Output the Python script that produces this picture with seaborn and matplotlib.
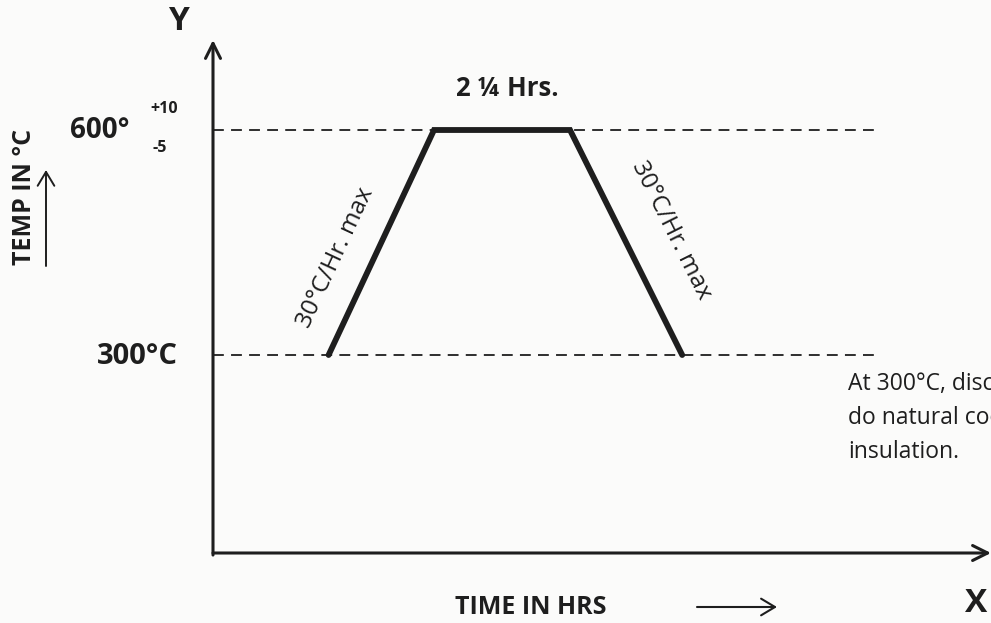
import matplotlib
matplotlib.use("Agg")
import matplotlib.pyplot as plt
import seaborn as sns
import pandas as pd

# ---- data (schematic heat-treatment cycle) ----
time_pts = [3.4, 6.5, 10.5, 13.8]        # schematic time positions
temp_pts = [300, 600, 600, 300]          # temperature, deg C
levels = [600, 300]                      # reference temperature levels
level_ends = [19.5, 19.65]               # extent of dashed guide lines
ramp_label = "30°C/Hr. max"
hold_label = "2 ¼ Hrs."
note_lines = ["At 300°C, discontinue heating and",
              "do natural cooling under",
              "insulation."]

W, H = 991, 623
sns.set_theme(style="white")
plt.rcParams['font.family'] = ['Open Sans', 'DejaVu Sans']
ink = "#1e1e1e"

fig = plt.figure(figsize=(W / 100, H / 100), dpi=100, facecolor="#fbfbfa")
ax = fig.add_axes([213 / W, (H - 553) / H, (W - 213) / W, 513 / H])
ax.set_facecolor("none")
ax.set_xlim(0, (W - 213) / 34)
ax.set_ylim(36, 720)
for s in ax.spines.values():
    s.set_visible(False)
ax.set_xticks([])
ax.set_yticks([])

df = pd.DataFrame({"time": time_pts, "temp": temp_pts})
sns.lineplot(data=df, x="time", y="temp", ax=ax, color=ink, lw=4.2,
             sort=False, solid_joinstyle="miter")

for lv, xe in zip(levels, level_ends):
    sns.lineplot(x=[0, xe], y=[lv, lv], ax=ax, color=ink, lw=1.3,
                 dashes=False, linestyle=(0, (6, 4)))
ax.set_xlabel("")
ax.set_ylabel("")

# axes arrows
ax.annotate("", xy=(0, 1.0), xytext=(0, -0.004), xycoords="axes fraction",
            arrowprops=dict(arrowstyle="->,head_length=0.9,head_width=0.45",
                            lw=2.2, color=ink, shrinkA=0, shrinkB=0))
ax.annotate("", xy=(1.0, 0.0), xytext=(0, 0.0), xycoords="axes fraction",
            arrowprops=dict(arrowstyle="->,head_length=0.9,head_width=0.45",
                            lw=2.2, color=ink, shrinkA=0, shrinkB=0))


def fx(px):
    return px / W


def fy(py):
    return 1 - py / H


fig.text(fx(178), fy(22), "Y", fontsize=24, fontweight="bold", color=ink,
         ha="center", va="center")
fig.text(fx(976), fy(603), "X", fontsize=24, fontweight="bold", color=ink,
         ha="center", va="center")
fig.text(fx(531), fy(607), "TIME IN HRS", fontsize=18, fontweight="bold",
         color=ink, ha="center", va="center")
fig.add_artist(matplotlib.patches.FancyArrowPatch(
    (fx(697), fy(607)), (fx(777), fy(607)), transform=fig.transFigure,
    arrowstyle="->,head_length=0.5,head_width=0.3", lw=1.5, color=ink,
    mutation_scale=20, shrinkA=0, shrinkB=0))

fig.text(fx(100), fy(130), "600°", fontsize=20, fontweight="bold",
         color=ink, ha="center", va="center")
fig.text(fx(164), fy(109), "+10", fontsize=11.5, fontweight="bold",
         color=ink, ha="center", va="center")
fig.text(fx(160), fy(148), "-5", fontsize=11.5, fontweight="bold",
         color=ink, ha="center", va="center")
fig.text(fx(137), fy(357), "300°C", fontsize=21, fontweight="bold",
         color=ink, ha="center", va="center")

fig.text(fx(25), fy(197), "TEMP IN °C", fontsize=18, fontweight="bold",
         color=ink, ha="center", va="center", rotation=90)
fig.add_artist(matplotlib.patches.FancyArrowPatch(
    (fx(46), fy(266)), (fx(46), fy(170)), transform=fig.transFigure,
    arrowstyle="->,head_length=0.5,head_width=0.3", lw=1.4, color=ink,
    mutation_scale=20, shrinkA=0, shrinkB=0))

fig.text(fx(507), fy(88), hold_label, fontsize=18.5, fontweight="bold",
         color=ink, ha="center", va="center")
fig.text(fx(336), fy(258), ramp_label, fontsize=17.5, color=ink,
         ha="center", va="center", rotation=65, rotation_mode="anchor")
fig.text(fx(671), fy(230), ramp_label, fontsize=17.5, color=ink,
         ha="center", va="center", rotation=-63.5, rotation_mode="anchor")

for i, line in enumerate(note_lines):
    fig.text(fx(848), fy(384 + 34 * i), line, fontsize=16.5, color=ink,
             ha="left", va="center")

fig.savefig("out.png", dpi=100, facecolor=fig.get_facecolor())
